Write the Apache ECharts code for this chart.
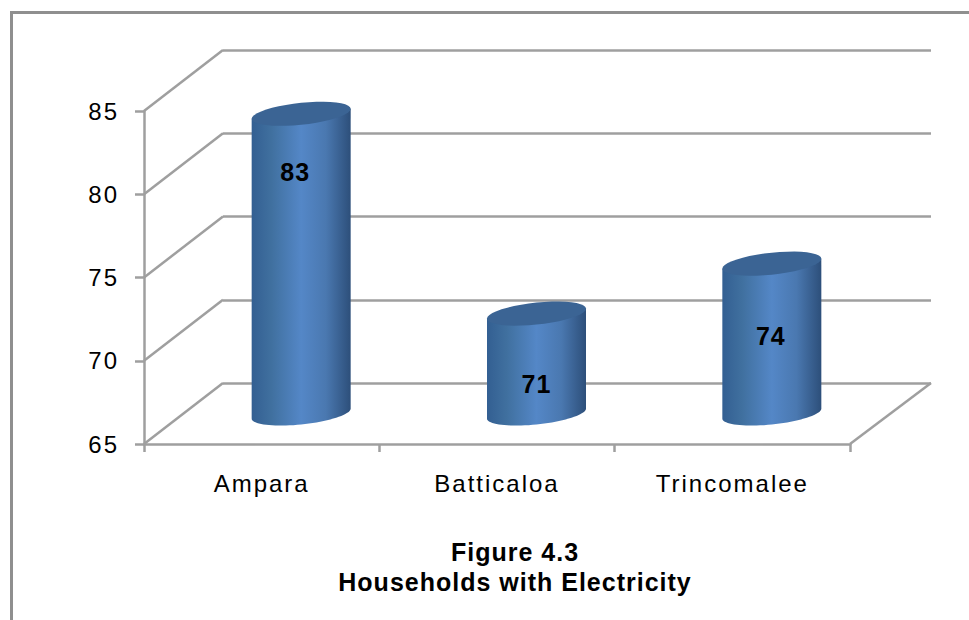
<!DOCTYPE html>
<html>
<head>
<meta charset="utf-8">
<script src="https://cdn.jsdelivr.net/npm/echarts@6/dist/echarts.min.js"></script>
<style>
    html, body { margin: 0; padding: 0; background: #fff; }
    #chart { width: 969px; height: 620px; }
    /* reference text is stretched sideways, canvas text can't do that */
    svg text { letter-spacing: 2px; }
    svg text[style*="bold"] { letter-spacing: 1px; }
</style>
</head>
<body>
<div id="chart"></div>
<script>
    const categories = ['Ampara', 'Batticaloa', 'Trincomalee'];
    const households = [83, 71, 74];
    const yTicks = [65, 70, 75, 80, 85];
    const chartTitle = 'Figure 4.3\nHouseholds with Electricity';

    const lineColor = '#9f9f9f';
    const textFont = 'Liberation Sans';
    // 3d look: how far the back wall sits from the front plane
    const depthX = 79;
    const depthY = -61;
    const labelShift = [[-6, 28], [0, 40], [-1, 42]];

    function sheared(cx, cy, a, b, k, from, to) {
        let pts = [];
        for (let i = 0; i <= 40; i++) {
            let t = from + (to - from) * i / 40;
            pts.push([cx + a * Math.cos(t), cy + b * Math.sin(t) - k * Math.cos(t)]);
        }
        return pts;
    }

    function renderBar(params, api) {
        let i = api.value(0);
        let top = api.coord([i, api.value(1)]);
        let base = api.coord([i, yTicks[0]]);
        let cx = top[0] + depthX / 2;
        let topY = top[1] + depthY / 2;
        let baseY = base[1] + depthY / 2;
        let a = 49.5, b = 11, k = 5;
        let body = [[cx - a, topY + k]].concat(sheared(cx, baseY, a, b, k, Math.PI, 0), [[cx + a, topY - k]]);
        return {
            type: 'group',
            children: [{
                type: 'polygon',
                shape: { points: body },
                style: {
                    fill: new echarts.graphic.LinearGradient(0, 0, 1, 0, [
                        { offset: 0, color: '#335f92' },
                        { offset: 0.2, color: '#40709f' },
                        { offset: 0.5, color: '#5487c7' },
                        { offset: 0.75, color: '#4a78b0' },
                        { offset: 1, color: '#2d4f7a' }
                    ])
                }
            }, {
                type: 'polygon',
                shape: { points: sheared(cx, topY, a, b, k, 0, Math.PI * 2) },
                style: { fill: '#3b6494' }
            }, {
                type: 'text',
                x: cx + labelShift[i][0],
                y: top[1] + labelShift[i][1],
                style: {
                    text: String(api.value(1)),
                    fill: '#000',
                    font: 'bold 25px "' + textFont + '"',
                    align: 'center',
                    verticalAlign: 'middle'
                }
            }]
        };
    }

    function renderDepthLine(params, api) {
        let area = params.coordSys;
        let y = api.coord([0, api.value(0)])[1];
        let line = function(x, dx) {
            return {
                type: 'line',
                shape: { x1: x, y1: y, x2: x + dx, y2: y + depthY },
                style: { stroke: lineColor, lineWidth: 2.5 }
            };
        };
        let children = [line(area.x, depthX)];
        if (api.value(0) === yTicks[0]) children.push(line(area.x + area.width, depthX + 2));
        return { type: 'group', children: children };
    }

    const myChart = echarts.init(document.getElementById('chart'), null, { renderer: 'svg' });
    myChart.setOption({
        animation: false,
        backgroundColor: '#fff',
        title: {
            text: chartTitle,
            left: 510,
            top: 532,
            textAlign: 'center',
            textStyle: {
                fontFamily: textFont,
                fontSize: 25,
                fontWeight: 'bold',
                color: '#000',
                lineHeight: 30
            }
        },
        graphic: [
            { type: 'rect', shape: { x: 10, y: 11, width: 959, height: 3 }, style: { fill: '#8f8f8f' } },
            { type: 'rect', shape: { x: 10, y: 11, width: 3, height: 609 }, style: { fill: '#8f8f8f' } }
        ],
        grid: [
            { left: 144, top: 111, width: 706, height: 333 },
            { left: 144 + depthX, top: 111 + depthY, width: 708, height: 333 }
        ],
        xAxis: [{
            type: 'category',
            data: categories,
            gridIndex: 0,
            axisLine: { lineStyle: { color: lineColor, width: 2.5 } },
            axisTick: { show: true, length: 8, lineStyle: { color: lineColor, width: 2.5 } },
            axisLabel: { color: '#000', fontFamily: textFont, fontSize: 24, margin: 27 }
        }, {
            type: 'category',
            data: categories,
            gridIndex: 1,
            show: false
        }],
        yAxis: [{
            type: 'value',
            gridIndex: 0,
            min: yTicks[0],
            max: yTicks[yTicks.length - 1],
            interval: 5,
            splitLine: { show: false },
            axisLine: { show: true, lineStyle: { color: lineColor, width: 2.5 } },
            axisTick: { show: true, length: 9, lineStyle: { color: lineColor, width: 2.5 } },
            axisLabel: { color: '#000', fontFamily: textFont, fontSize: 24, margin: 25 }
        }, {
            type: 'value',
            gridIndex: 1,
            min: yTicks[0],
            max: yTicks[yTicks.length - 1],
            interval: 5,
            axisLine: { show: false },
            axisTick: { show: false },
            axisLabel: { show: false },
            splitLine: { show: true, lineStyle: { color: lineColor, width: 2.5 } }
        }],
        series: [{
            type: 'custom',
            xAxisIndex: 0,
            yAxisIndex: 0,
            data: yTicks.map(v => [v]),
            encode: { y: 0 },
            clip: false,
            silent: true,
            renderItem: renderDepthLine,
            z: 1
        }, {
            type: 'custom',
            xAxisIndex: 0,
            yAxisIndex: 0,
            data: households.map((v, i) => [i, v]),
            encode: { x: 0, y: 1 },
            clip: false,
            renderItem: renderBar,
            z: 5
        }]
    });
</script>
</body>
</html>
